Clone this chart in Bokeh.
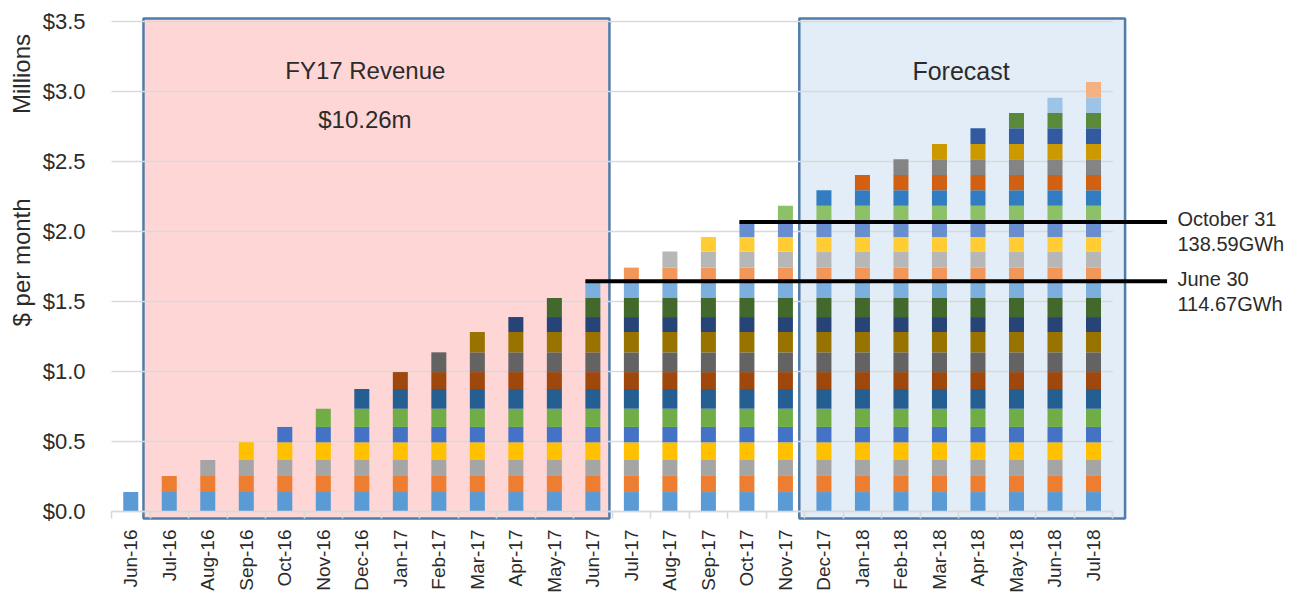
import math
from bokeh.plotting import figure
from bokeh.models import ColumnDataSource, Range1d, FixedTicker, PrintfTickFormatter
from bokeh.core.properties import value
from bokeh.embed import file_html
from bokeh.resources import INLINE

# ---------------- data ----------------
months = ["Jun-16", "Jul-16", "Aug-16", "Sep-16", "Oct-16", "Nov-16", "Dec-16",
          "Jan-17", "Feb-17", "Mar-17", "Apr-17", "May-17", "Jun-17", "Jul-17",
          "Aug-17", "Sep-17", "Oct-17", "Nov-17", "Dec-17", "Jan-18", "Feb-18",
          "Mar-18", "Apr-18", "May-18", "Jun-18", "Jul-18"]
# $ millions per month added by the tranche that starts in each month
tranche = [0.139, 0.115, 0.114, 0.126, 0.110, 0.130, 0.141, 0.121, 0.141, 0.145,
           0.107, 0.136, 0.120, 0.097, 0.115, 0.104, 0.107, 0.116, 0.110, 0.110,
           0.112, 0.109, 0.112, 0.109, 0.110, 0.112]
palette = ["#5B9BD5", "#ED7D31", "#A5A5A5", "#FFC000", "#4472C4", "#70AD47",
           "#255E91", "#9E480E", "#636363", "#997300", "#264478", "#43682B",
           "#7CAFDD", "#F1975A", "#B7B7B7", "#FFCD33", "#698ED0", "#8CC168",
           "#327DC2", "#D26012", "#848484", "#CC9A00", "#335AA1", "#5A8A39",
           "#9DC3E6", "#F4B183"]
y_ticks = [0.0, 0.5, 1.0, 1.5, 2.0, 2.5, 3.0, 3.5]
markers = [("Jun-17", "June 30", "114.67GWh"), ("Oct-17", "October 31", "138.59GWh")]
box_texts = [("FY17 Revenue", 6.09, 3.15, "24px"), ("$10.26m", 6.08, 2.80, "24px"),
             ("Forecast", 21.56, 3.15, "25px")]

# ---------------- derived ----------------
cum = []
s = 0.0
for v in tranche:
    s += v
    cum.append(s)

xs, bots, tops, cols = [], [], [], []
for i in range(len(months)):
    for j in range(i + 1):
        xs.append(i)
        bots.append(cum[j] - tranche[j])
        tops.append(cum[j])
        cols.append(palette[j])
bars = ColumnDataSource(dict(x=xs, bottom=bots, top=tops, color=cols))

n = len(months)
FONT = "Liberation Sans"
TXT = "#2b2b2b"
GRID = "#D9D9D9"
BAR_W = 0.39

p = figure(width=1300, height=596, output_backend="svg", toolbar_location=None,
           x_range=Range1d(-3.3824, 30.375), y_range=Range1d(-0.6071, 3.65),
           min_border_left=0, min_border_right=0, min_border_top=0, min_border_bottom=0)
p.outline_line_color = None
p.xgrid.visible = False
p.ygrid.visible = False

# shaded regions (behind everything)
p.quad(left=[0.33], right=[12.43], bottom=[-0.05], top=[3.521],
       fill_color="#FFD6D6", line_color="#4F7CA9", line_width=2.5)
p.quad(left=[17.36], right=[25.82], bottom=[-0.05], top=[3.521],
       fill_color="#E2EDF7", line_color="#4F7CA9", line_width=2.5)

# gridlines
p.segment(x0=[-0.5] * len(y_ticks), x1=[n - 0.5] * len(y_ticks), y0=y_ticks, y1=y_ticks,
          line_color=GRID, line_width=1.6)

# stacked bars
p.vbar(x="x", width=BAR_W, bottom="bottom", top="top", fill_color="color",
       line_color=None, source=bars)

# marker lines and labels
for m, t1, t2 in markers:
    i = months.index(m)
    yv = cum[i]
    p.segment(x0=[i - BAR_W / 2], x1=[26.91], y0=[yv], y1=[yv], line_color="black", line_width=4)
    p.text(x=[27.18], y=[yv + 0.018], text=[t1], text_font=value(FONT), text_font_size="20px",
           text_color=TXT, text_baseline="alphabetic", text_align="left")
    p.text(x=[27.18], y=[yv - 0.16], text=[t2], text_font=value(FONT), text_font_size="20px",
           text_color=TXT, text_baseline="alphabetic", text_align="left")

for t, x, y, fs in box_texts:
    p.text(x=[x], y=[y], text=[t], text_font=value(FONT), text_font_size=fs,
           text_color=TXT, text_align="center", text_baseline="middle")

# y-axis titles
p.text(x=[-0.5], y=[1.779], x_offset=-90, text=["$ per month"], angle=math.pi / 2,
       text_font=value(FONT), text_font_size="24px", text_color=TXT,
       text_align="center", text_baseline="middle")
p.text(x=[-0.5], y=[3.125], x_offset=-90, text=["Millions"], angle=math.pi / 2,
       text_font=value(FONT), text_font_size="24px", text_color=TXT,
       text_align="center", text_baseline="middle")

# axes
bounds = [k - 0.5 for k in range(n + 1)]
xa = p.xaxis[0]
xa.fixed_location = 0
xa.bounds = (-0.5, n - 0.5)
xa.ticker = FixedTicker(ticks=list(range(n)), minor_ticks=bounds)
xa.major_label_overrides = {i: m for i, m in enumerate(months)}
xa.major_label_orientation = math.pi / 2
xa.axis_line_color = GRID
xa.axis_line_width = 1.6
xa.major_tick_line_color = None
xa.minor_tick_line_color = GRID
xa.minor_tick_line_width = 1.6
xa.minor_tick_in = 0
xa.minor_tick_out = 7
xa.major_label_standoff = 11
xa.major_label_text_font = FONT
xa.major_label_text_font_size = "19px"
xa.major_label_text_color = TXT

ya = p.yaxis[0]
ya.fixed_location = -0.5
ya.ticker = FixedTicker(ticks=y_ticks, minor_ticks=[])
ya.formatter = PrintfTickFormatter(format="$%.1f")
ya.axis_line_color = None
ya.major_tick_line_color = None
ya.minor_tick_line_color = None
ya.major_label_standoff = 20
ya.major_label_text_font = FONT
ya.major_label_text_font_size = "22px"
ya.major_label_text_color = TXT

open("out.html", "w").write(file_html(p, INLINE))
